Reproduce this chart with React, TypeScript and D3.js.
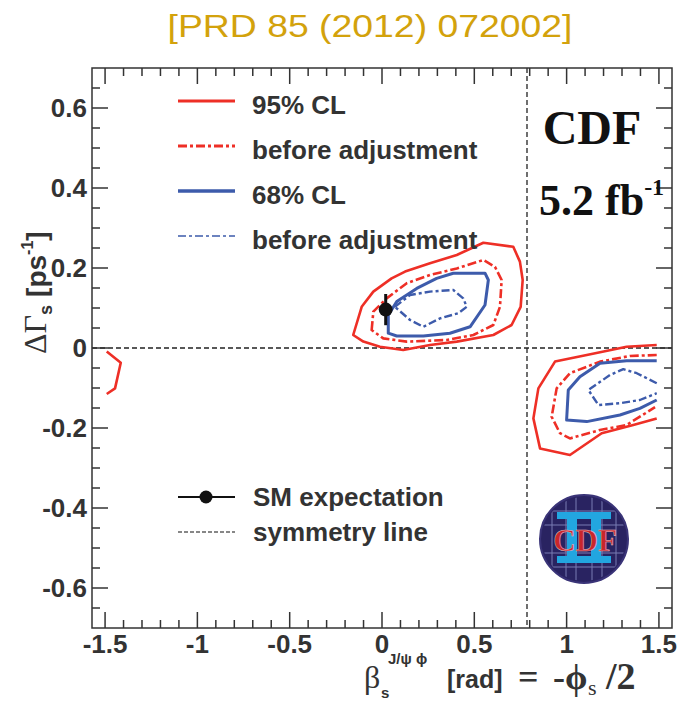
import React from "react";
import * as d3 from "d3";

// ---- data -------------------------------------------------------------
const xTickValues = [-1.5, -1, -0.5, 0, 0.5, 1, 1.5];
const xTickLabels = ["-1.5", "-1", "-0.5", "0", "0.5", "1", "1.5"];
const yTickValues = [-0.6, -0.4, -0.2, 0, 0.2, 0.4, 0.6];
const yTickLabels = ["-0.6", "-0.4", "-0.2", "0", "0.2", "0.4", "0.6"];

const symmetryBeta = Math.PI / 4;
const smPoint = { beta: 0.02, dGamma: 0.096, err: 0.039 };

// 95% CL, central island (after adjustment)
const cl95Central: [number, number][] = [
  [-0.156, 0.0325], [-0.11, 0.103], [-0.047, 0.141], [0.052, 0.174], [0.125, 0.191],
  [0.26, 0.212], [0.405, 0.2325], [0.549, 0.263], [0.711, 0.253], [0.747, 0.216],
  [0.762, 0.17], [0.751, 0.103], [0.702, 0.0575], [0.603, 0.0325], [0.405, 0.016],
  [0.26, 0.0075], [0.115, -0.005], [-0.011, 0.003], [-0.101, 0.016],
];
// 95% CL, central island (before adjustment)
const cl95CentralBefore: [number, number][] = [
  [-0.056, 0.045], [-0.047, 0.091], [0.025, 0.124], [0.134, 0.162], [0.26, 0.1825],
  [0.405, 0.199], [0.549, 0.22], [0.612, 0.203], [0.648, 0.17], [0.639, 0.103],
  [0.603, 0.0575], [0.495, 0.0325], [0.35, 0.02], [0.134, 0.016], [0.007, 0.024],
];
// 68% CL, central island (after adjustment)
const cl68Central: [number, number][] = [
  [0.034, 0.037], [0.034, 0.0825], [0.08, 0.116], [0.188, 0.149], [0.296, 0.174],
  [0.386, 0.187], [0.558, 0.187], [0.576, 0.17], [0.558, 0.1075], [0.477, 0.053],
  [0.368, 0.037], [0.224, 0.03], [0.08, 0.03],
];
// 68% CL, central island (before adjustment)
const cl68CentralBefore: [number, number][] = [
  [0.07, 0.103], [0.152, 0.1325], [0.26, 0.141], [0.386, 0.145], [0.44, 0.124],
  [0.459, 0.103], [0.413, 0.087], [0.314, 0.074], [0.224, 0.053], [0.152, 0.07],
];
// mirror-side islands (open at the edge of the scan range)
const cl95Right: [number, number][] = [
  [1.488, 0.0075], [1.325, 0.003], [1.109, -0.0175], [0.937, -0.034], [0.847, -0.101],
  [0.82, -0.176], [0.856, -0.251], [1.018, -0.2675], [1.19, -0.213], [1.361, -0.1925],
  [1.488, -0.176],
];
const cl95RightBefore: [number, number][] = [
  [1.488, -0.0175], [1.343, -0.02], [1.181, -0.034], [1.018, -0.063], [0.946, -0.101],
  [0.919, -0.172], [0.964, -0.213], [1.018, -0.226], [1.181, -0.205], [1.325, -0.1925],
  [1.479, -0.148],
];
const cl68Right: [number, number][] = [
  [1.488, -0.032], [1.325, -0.032], [1.181, -0.038], [1.072, -0.072], [1.009, -0.105],
  [1.0, -0.18], [1.109, -0.184], [1.289, -0.1675], [1.397, -0.151], [1.488, -0.13],
];
const cl68RightBefore: [number, number][] = [
  [1.488, -0.088], [1.38, -0.063], [1.307, -0.053], [1.235, -0.0675], [1.118, -0.105],
  [1.172, -0.1425], [1.289, -0.138], [1.397, -0.13], [1.488, -0.113],
];
const cl95Left: [number, number][] = [
  [-1.491, -0.009], [-1.415, -0.037], [-1.446, -0.101], [-1.491, -0.115],
];

const legendEntries = [
  { label: "95% CL", kind: "red" },
  { label: "before adjustment", kind: "redDash" },
  { label: "68% CL", kind: "blue" },
  { label: "before adjustment", kind: "blueDash" },
];

// ---- styling ----------------------------------------------------------
const W = 681;
const H = 702;
const plot = { left: 92, right: 672, top: 68, bottom: 628 };
const SANS = "'Liberation Sans', Arial, Helvetica, sans-serif";
const SERIF = "'Liberation Serif', 'Times New Roman', serif";
const INK = "#333";
const RED = "#ee2f26";
const BLUE = "#3d5bab";

const styles: Record<string, { stroke: string; width: number; dash?: string }> = {
  red: { stroke: RED, width: 2.6 },
  redDash: { stroke: RED, width: 2.6, dash: "9 3 3 3" },
  blue: { stroke: BLUE, width: 3 },
  blueDash: { stroke: BLUE, width: 2.4, dash: "8 3 3 3" },
};

export default function App() {
  const x = d3.scaleLinear().domain([-Math.PI / 2, Math.PI / 2]).range([plot.left, plot.right]);
  const y = d3.scaleLinear().domain([-0.7, 0.7]).range([plot.bottom, plot.top]);

  const closed = d3.line<[number, number]>().x((d) => x(d[0])).y((d) => y(d[1])).curve(d3.curveLinearClosed);
  const open = d3.line<[number, number]>().x((d) => x(d[0])).y((d) => y(d[1])).curve(d3.curveLinear);

  const xMinor = d3.range(-15, 16).map((i) => i / 10);
  const yMinor = d3.range(-13, 14).map((i) => i / 20);
  const isXMajor = (v: number) => Math.abs(v * 2 - Math.round(v * 2)) < 1e-6;
  const isYMajor = (v: number) => Math.abs(v * 5 - Math.round(v * 5)) < 1e-6;

  const contours: { d: [number, number][]; s: string; closed: boolean }[] = [
    { d: cl95Central, s: "red", closed: true },
    { d: cl95CentralBefore, s: "redDash", closed: true },
    { d: cl68Central, s: "blue", closed: true },
    { d: cl68CentralBefore, s: "blueDash", closed: true },
    { d: cl95Right, s: "red", closed: false },
    { d: cl95RightBefore, s: "redDash", closed: false },
    { d: cl68Right, s: "blue", closed: false },
    { d: cl68RightBefore, s: "blueDash", closed: false },
    { d: cl95Left, s: "red", closed: false },
  ];

  const logo = { cx: 584, cy: 539, r: 44 };

  return (
    <svg width={W} height={H} style={{ display: "block", position: "absolute", left: 0, top: 0 }}>
      <rect width={W} height={H} fill="#fff" />
      <text x={370} y={37} textAnchor="middle" fontFamily={SANS} fontSize={32} fill="#d3a20c"
        textLength={405} lengthAdjust="spacingAndGlyphs">
        [PRD 85 (2012) 072002]
      </text>

      <defs>
        <clipPath id="plotClip">
          <rect x={plot.left} y={plot.top} width={plot.right - plot.left} height={plot.bottom - plot.top} />
        </clipPath>
        <clipPath id="logoClip">
          <circle cx={logo.cx} cy={logo.cy} r={logo.r - 2} />
        </clipPath>
      </defs>

      {/* reference lines */}
      <line x1={plot.left} x2={plot.right} y1={y(0)} y2={y(0)} stroke="#222" strokeWidth={1.3} strokeDasharray="5 3" />
      <line x1={x(symmetryBeta)} x2={x(symmetryBeta)} y1={plot.top} y2={plot.bottom} stroke="#222" strokeWidth={1.3} strokeDasharray="5 3" />

      {/* confidence contours */}
      <g clipPath="url(#plotClip)" fill="none" strokeLinejoin="round">
        {contours.map((c, i) => (
          <path key={i} d={(c.closed ? closed : open)(c.d) || ""} stroke={styles[c.s].stroke}
            strokeWidth={styles[c.s].width} strokeDasharray={styles[c.s].dash} />
        ))}
      </g>

      {/* SM expectation */}
      <line x1={x(smPoint.beta)} x2={x(smPoint.beta)} y1={y(smPoint.dGamma - smPoint.err)} y2={y(smPoint.dGamma + smPoint.err)}
        stroke="#111" strokeWidth={3} />
      <circle cx={x(smPoint.beta)} cy={y(smPoint.dGamma)} r={7} fill="#111" />

      {/* frame & ticks */}
      <g stroke={INK} strokeWidth={1.5}>
        {xMinor.map((v, i) => {
          const len = isXMajor(v) ? 16 : 8;
          return (
            <g key={"xt" + i}>
              <line x1={x(v)} x2={x(v)} y1={plot.bottom} y2={plot.bottom - len} />
              <line x1={x(v)} x2={x(v)} y1={plot.top} y2={plot.top + len} />
            </g>
          );
        })}
        {yMinor.map((v, i) => {
          const len = isYMajor(v) ? 16 : 8;
          return (
            <g key={"yt" + i}>
              <line x1={plot.left} x2={plot.left + len} y1={y(v)} y2={y(v)} />
              <line x1={plot.right} x2={plot.right - len} y1={y(v)} y2={y(v)} />
            </g>
          );
        })}
        <rect x={plot.left} y={plot.top} width={plot.right - plot.left} height={plot.bottom - plot.top} fill="none" />
      </g>

      {/* tick labels */}
      <g fontFamily={SANS} fontSize={26} fontWeight="bold" fill={INK}>
        {xTickValues.map((v, i) => (
          <text key={"xl" + i} x={x(v)} y={653} textAnchor="middle">{xTickLabels[i]}</text>
        ))}
        {yTickValues.map((v, i) => (
          <text key={"yl" + i} x={87} y={y(v) + 9} textAnchor="end">{yTickLabels[i]}</text>
        ))}
      </g>

      {/* y-axis title */}
      <text transform="translate(46,354) rotate(-90)" fill={INK}>
        <tspan fontFamily={SERIF} fontSize={32}>ΔΓ</tspan>
        <tspan fontFamily={SANS} fontWeight="bold" fontSize={18} dy={6}>s</tspan>
        <tspan fontFamily={SANS} fontWeight="bold" fontSize={28} dy={-6} dx={8}>[ps</tspan>
        <tspan fontFamily={SANS} fontWeight="bold" fontSize={16} dy={-13}>-1</tspan>
        <tspan fontFamily={SANS} fontWeight="bold" fontSize={28} dy={13}>]</tspan>
      </text>

      {/* x-axis title */}
      <g fill={INK}>
        <text x={364} y={688} fontFamily={SERIF} fontSize={32}>β</text>
        <text x={381} y={698} fontFamily={SANS} fontWeight="bold" fontSize={15}>s</text>
        <text x={388} y={664} fontFamily={SANS} fontWeight="bold" fontSize={15}>J/ψ ϕ</text>
        <text x={447} y={688} fontFamily={SANS} fontWeight="bold" fontSize={25}>[rad]</text>
        <text x={518} y={689} fontFamily={SERIF} fontWeight="bold" fontSize={36}>=</text>
        <text x={553} y={689} fontFamily={SERIF} fontWeight="bold" fontSize={36}>-ϕ</text>
        <text x={588} y={695} fontFamily={SERIF} fontSize={22}>s</text>
        <text x={606} y={689} fontFamily={SERIF} fontWeight="bold" fontSize={38}>/2</text>
      </g>

      {/* legend */}
      <g>
        {legendEntries.map((e, i) => {
          const ly = 101 + i * 45;
          const st = styles[e.kind];
          const thin = e.kind === "blueDash";
          return (
            <g key={"lg" + i}>
              <line x1={178} x2={235} y1={ly} y2={ly} stroke={st.stroke}
                strokeWidth={thin ? 1.5 : st.width + 0.4} strokeDasharray={st.dash} />
              <text x={252} y={ly + 13} fontFamily={SANS} fontSize={26} fontWeight="bold" fill={INK}>{e.label}</text>
            </g>
          );
        })}
        <line x1={178} x2={235} y1={497} y2={497} stroke="#111" strokeWidth={2} />
        <circle cx={206} cy={497} r={6.5} fill="#111" />
        <text x={253} y={506} fontFamily={SANS} fontSize={26} fontWeight="bold" fill={INK}>SM expectation</text>
        <line x1={178} x2={235} y1={532} y2={532} stroke="#111" strokeWidth={1.2} strokeDasharray="4 2" />
        <text x={253} y={541} fontFamily={SANS} fontSize={26} fontWeight="bold" fill={INK}>symmetry line</text>
      </g>

      {/* experiment labels */}
      <text x={592} y={144} textAnchor="middle" fontFamily={SERIF} fontWeight="bold" fontSize={48} fill="#111">CDF</text>
      <text x={539} y={215} fontFamily={SERIF} fontWeight="bold" fontSize={44} fill="#111">
        5.2 fb<tspan fontSize={24} dy={-20}>-1</tspan>
      </text>

      {/* CDF II emblem */}
      <g>
        <circle cx={logo.cx} cy={logo.cy} r={logo.r} fill="#2a2362" stroke="#3a3478" strokeWidth={2} />
        <g clipPath="url(#logoClip)" stroke="#8d93c8" strokeWidth={1} opacity={0.8}>
          {[-32, -18, -8, 8, 18, 32].map((o) => (
            <line key={"v" + o} x1={logo.cx + o} x2={logo.cx + o} y1={logo.cy - logo.r} y2={logo.cy + logo.r} />
          ))}
          {[-28, -14, 14, 28].map((o) => (
            <line key={"h" + o} x1={logo.cx - logo.r} x2={logo.cx + logo.r} y1={logo.cy + o} y2={logo.cy + o} />
          ))}
        </g>
        <g fill="#22a6e0">
          <rect x={logo.cx - 27} y={logo.cy - 27} width={54} height={7} />
          <rect x={logo.cx - 27} y={logo.cy + 17} width={54} height={7} />
          <rect x={logo.cx - 17} y={logo.cy - 27} width={10} height={51} />
          <rect x={logo.cx + 7} y={logo.cy - 27} width={10} height={51} />
        </g>
        <text x={logo.cx + 1} y={logo.cy + 12} textAnchor="middle" fontFamily={SERIF} fontWeight="bold"
          fontSize={31} fill="#c9262c" stroke="#e8c0c8" strokeWidth={0.5}>CDF</text>
      </g>
    </svg>
  );
}
